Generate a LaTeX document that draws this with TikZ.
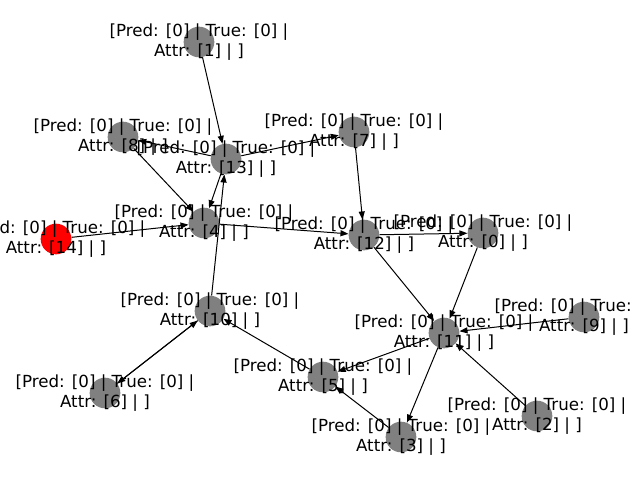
\documentclass[tikz,border=0pt]{standalone}
\usepackage{fontspec}
\setmainfont{DejaVu Sans}
\usetikzlibrary{arrows.meta}
\definecolor{nodegray}{HTML}{808080}
\definecolor{nodered}{HTML}{FF0000}
\begin{document}
\begin{tikzpicture}[x=0.75pt,y=-0.75pt,
  vert/.style={circle,fill=nodegray,draw=none,minimum size=23pt,inner sep=0pt},
  hot/.style={vert,fill=nodered},
  lbl/.style={align=center,inner sep=0pt,font=\fontsize{12.5pt}{15pt}\selectfont},
  edge/.style={draw=black,line width=0.75pt,-{Triangle[length=6pt,width=4.5pt]}}]
\useasboundingbox (0,0) rectangle (640,480);
% vertices
\node[vert] (n0)  at (483,233) {};
\node[vert] (n1)  at (199,42)  {};
\node[vert] (n2)  at (537,416) {};
\node[vert] (n3)  at (401,437) {};
\node[vert] (n4)  at (204,223) {};
\node[vert] (n5)  at (323,377) {};
\node[vert] (n6)  at (105,393) {};
\node[vert] (n7)  at (354,132) {};
\node[vert] (n8)  at (123,137) {};
\node[vert] (n9)  at (584,317) {};
\node[vert] (n10) at (210,311) {};
\node[vert] (n11) at (444,333) {};
\node[vert] (n12) at (364,235) {};
\node[vert] (n13) at (226,159) {};
\node[hot]  (n14) at (56,239)  {};
% directed edges
\draw[edge] (n1) -- (n13);
\draw[edge] (n13) -- (n8);
\draw[edge] (n13) -- (n7);
\draw[edge] (n8) -- (n4);
\draw[edge] (n13) -- (n4);
\draw[edge] (n10) -- (n13);
\draw[edge] (n14) -- (n4);
\draw[edge] (n4) -- (n12);
\draw[edge] (n7) -- (n12);
\draw[edge] (n12) -- (n0);
\draw[edge] (n12) -- (n11);
\draw[edge] (n0) -- (n11);
\draw[edge] (n9) -- (n11);
\draw[edge] (n11) -- (n5);
\draw[edge] (n11) -- (n3);
\draw[edge] (n2) -- (n11);
\draw[edge] (n3) -- (n5);
\draw[edge] (n5) -- (n10);
\draw[edge] (n10) -- (n6);
\draw[edge] (n6) -- (n10);
% labels
\foreach \i in {0,...,14}{
  \node[lbl] (t\i) at (n\i) {[Pred: [0] | True: [0] |\\Attr: [\i] | ]};
}
\end{tikzpicture}
\end{document}
